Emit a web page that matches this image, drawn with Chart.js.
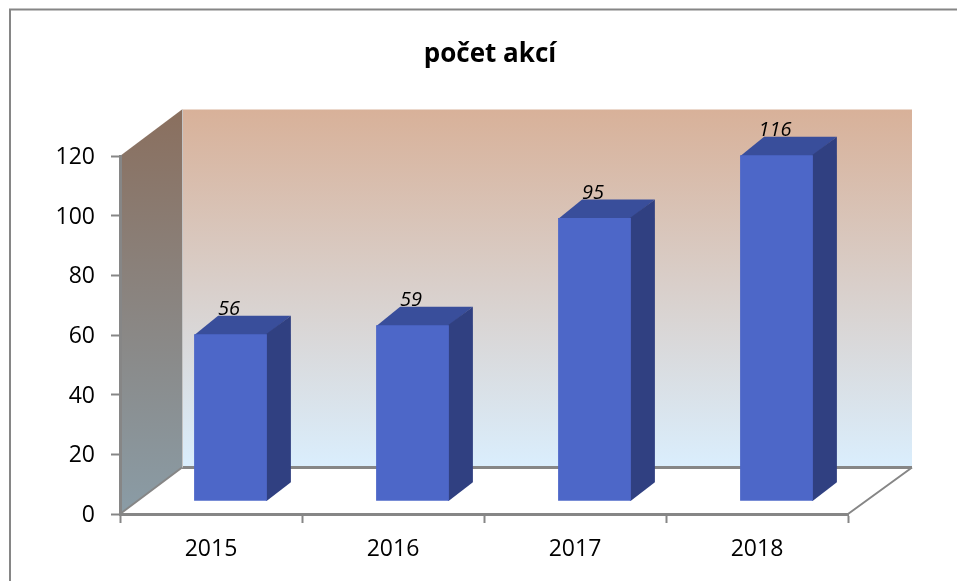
<!DOCTYPE html>
<html><head><meta charset="utf-8">
<style>html,body{margin:0;padding:0;background:#fff}canvas{display:block}</style>
<script src="https://cdn.jsdelivr.net/npm/chart.js@4"></script>
</head><body>
<div style="width:957px;height:581px"><canvas id="c" width="957" height="581"></canvas></div>
<script>
const categories = ['2015', '2016', '2017', '2018'];
const counts = [56, 59, 95, 116];
const titleText = 'počet akcí';
const FONT = '"Open Sans", sans-serif';
const GRAY = '#868686';
const DEPTH_X = 62, DEPTH_Y = 46.5;    // floor/wall depth
const BAR_DX = 19.5, BAR_DY = -12.7;   // bars sit inside the floor
const BAR_DEPTH_X = 24, BAR_DEPTH_Y = 18.5;

function poly(ctx, pts, fill) {
  ctx.beginPath();
  pts.forEach((p, i) => i ? ctx.lineTo(p[0], p[1]) : ctx.moveTo(p[0], p[1]));
  ctx.closePath();
  ctx.fillStyle = fill;
  ctx.fill();
}

const scene = {
  id: 'scene',
  beforeDraw(chart) {
    const { ctx, chartArea: a } = chart;
    const L = a.left, R = a.right, T = a.top, B = a.bottom;
    ctx.save();
    // chart frame (top and left only are visible)
    ctx.strokeStyle = GRAY; ctx.lineWidth = 2;
    ctx.beginPath(); ctx.moveTo(957, 9.5); ctx.lineTo(10, 9.5); ctx.lineTo(10, 581); ctx.stroke();
    // title
    ctx.font = 'bold 26px ' + FONT;
    ctx.fillStyle = '#000'; ctx.textAlign = 'center'; ctx.textBaseline = 'middle';
    ctx.fillText(titleText, 490, 55);
    // back wall
    let g = ctx.createLinearGradient(0, T - DEPTH_Y, 0, B - DEPTH_Y);
    g.addColorStop(0, '#d8b199'); g.addColorStop(1, '#daeefd');
    poly(ctx, [[L + DEPTH_X, T - DEPTH_Y], [R + DEPTH_X + 2, T - DEPTH_Y], [R + DEPTH_X + 2, B - DEPTH_Y], [L + DEPTH_X, B - DEPTH_Y]], g);
    // left wall
    g = ctx.createLinearGradient(0, T - DEPTH_Y, 0, B);
    g.addColorStop(0, '#8a6f5e'); g.addColorStop(1, '#8a9ca6');
    poly(ctx, [[L, T], [L + DEPTH_X, T - DEPTH_Y], [L + DEPTH_X, B - DEPTH_Y], [L, B]], g);
    // floor edges and wall seam
    ctx.strokeStyle = GRAY; ctx.lineWidth = 3;
    ctx.beginPath(); ctx.moveTo(L + DEPTH_X, B - DEPTH_Y); ctx.lineTo(R + DEPTH_X + 2, B - DEPTH_Y); ctx.stroke();
    ctx.lineWidth = 2;
    ctx.beginPath();
    ctx.moveTo(L, B); ctx.lineTo(L + DEPTH_X, B - DEPTH_Y);
    ctx.moveTo(R, B); ctx.lineTo(R + DEPTH_X + 2, B - DEPTH_Y);
    ctx.stroke();
    ctx.strokeStyle = '#c4c4c4'; ctx.lineWidth = 1;
    ctx.beginPath(); ctx.moveTo(L + DEPTH_X + 0.5, T - DEPTH_Y); ctx.lineTo(L + DEPTH_X + 0.5, B - DEPTH_Y); ctx.stroke();
    ctx.restore();
  },
  beforeDatasetDraw(chart, args) {
    const { ctx } = chart;
    ctx.save();
    ctx.translate(BAR_DX, BAR_DY);
    args.meta.data.forEach(el => {
      const l = el.x - el.width / 2, r = el.x + el.width / 2, t = el.y, b = el.base;
      // faces overlap the front slightly so no antialiased seam shows
      poly(ctx, [[l, t + 1], [l + BAR_DEPTH_X, t - BAR_DEPTH_Y], [r + BAR_DEPTH_X, t - BAR_DEPTH_Y], [r - 1, t + 1]], '#394e9b');
      poly(ctx, [[r - 1, t], [r + BAR_DEPTH_X, t - BAR_DEPTH_Y], [r + BAR_DEPTH_X, b - BAR_DEPTH_Y], [r, b], [r - 1, b]], '#304081');
    });
  },
  afterDatasetDraw(chart) { chart.ctx.restore(); },
  afterDatasetsDraw(chart) {
    const { ctx } = chart;
    ctx.save();
    ctx.font = 'italic 20px ' + FONT;
    ctx.fillStyle = '#000';
    ctx.textAlign = 'center';
    ctx.textBaseline = 'middle';
    chart.getDatasetMeta(0).data.forEach((el, i) => {
      ctx.fillText(String(counts[i]), el.x + BAR_DX - 1.5, el.y + BAR_DY - 24.5);
    });
    ctx.restore();
  }
};

new Chart(document.getElementById('c'), {
  type: 'bar',
  data: {
    labels: categories,
    datasets: [{
      label: titleText,
      data: counts,
      backgroundColor: '#4d67c8',
      borderWidth: 0,
      barPercentage: 0.4,
      categoryPercentage: 1
    }]
  },
  plugins: [scene],
  options: {
    responsive: false,
    animation: false,
    layout: { padding: { left: 0, right: 109, top: 156, bottom: 0 } },
    plugins: {
      legend: { display: false },
      tooltip: { enabled: false },
      title: { display: false }
    },
    scales: {
      x: {
        afterFit(s) { s.height = 67; },
        grid: { drawOnChartArea: false, color: GRAY, tickLength: 9, tickWidth: 2 },
        border: { color: GRAY, width: 3 },
        ticks: { color: '#000', padding: 13, maxRotation: 0, font: { family: FONT, size: 23 } }
      },
      y: {
        min: 0, max: 120,
        afterFit(s) { s.width = 120; },
        grid: { drawOnChartArea: false, color: GRAY, tickLength: 9, tickWidth: 2 },
        border: { color: GRAY, width: 3 },
        ticks: { stepSize: 20, color: '#000', padding: 16, labelOffset: 1.5, font: { family: FONT, size: 23 } }
      }
    }
  }
});
</script>
</body></html>
